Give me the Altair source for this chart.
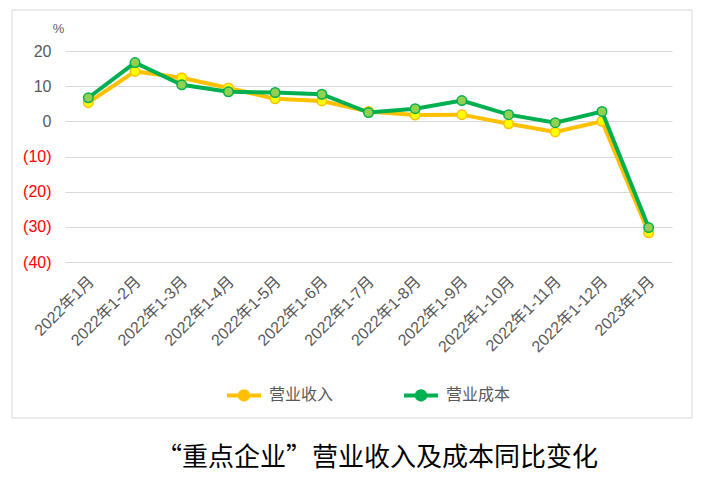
import altair as alt
import pandas as pd

periods = ["2022年1月", "2022年1-2月", "2022年1-3月", "2022年1-4月", "2022年1-5月",
           "2022年1-6月", "2022年1-7月", "2022年1-8月", "2022年1-9月", "2022年1-10月",
           "2022年1-11月", "2022年1-12月", "2023年1月"]
revenue = [5.3, 14.2, 12.4, 9.5, 6.4, 5.8, 2.8, 1.8, 1.9, -0.7, -3.0, 0.0, -31.7]
cost = [6.7, 16.7, 10.4, 8.4, 8.2, 7.7, 2.5, 3.6, 5.9, 1.9, -0.4, 2.8, -30.2]
series_names = ["营业收入", "营业成本"]
line_colors = ["#FFC000", "#00B050"]
dot_fill = ["#FFFF00", "#92D050"]
title_text = "“重点企业”营业收入及成本同比变化"

rows = []
for name, vals in zip(series_names, [revenue, cost]):
    for p, v in zip(periods, vals):
        rows.append({"period": p, "series": name, "value": v})
df = pd.DataFrame(rows)

FONT = "Liberation Sans, Noto Sans CJK SC"
GRAY = "#595959"

x_enc = alt.X("period:N", sort=periods, scale=alt.Scale(paddingInner=0, paddingOuter=0),
              axis=alt.Axis(title=None, labelAngle=-45, labelFontSize=16, labelColor=GRAY,
                            labelFont=FONT, ticks=False, domain=False, labelPadding=11,
                            labelOffset=-3, grid=False))
y_enc = alt.Y("value:Q", scale=alt.Scale(domain=[-40, 20], nice=False),
              axis=alt.Axis(values=[20, 10, 0, -10, -20, -30, -40],
                            labelExpr="datum.value < 0 ? '(' + abs(datum.value) + ')' : datum.value",
                            labelColor={"condition": {"test": "datum.value < 0", "value": "#FF0000"},
                                        "value": GRAY},
                            labelFontSize=16, labelFont=FONT, labelPadding=14,
                            ticks=False, domain=False, gridColor="#D9D9D9", gridWidth=1,
                            title="%", titleAngle=0, titleX=-7, titleY=-16, titleFontSize=13,
                            titleFontWeight="normal", titleColor=GRAY, titleFont=FONT,
                            titleAlign="center"))

base = alt.Chart(df)

frame = alt.Chart(pd.DataFrame({"a": [0]})).mark_rect(
    fill=None, stroke="#D9D9D9", strokeWidth=1
).encode(x=alt.value(-53), x2=alt.value(627), y=alt.value(-41), y2=alt.value(367))

legend_path = ("M-1,0 L1,0 M0.25,0 A0.25,0.25 0 1,1 -0.25,0 A0.25,0.25 0 1,1 0.25,0 Z")

layers = [frame]
for i, name in enumerate(series_names):
    sub = base.transform_filter(alt.datum.series == name)
    line = sub.mark_line(strokeWidth=4).encode(
        x=x_enc, y=y_enc,
        color=alt.Color("series:N", sort=series_names,
                        scale=alt.Scale(domain=series_names, range=line_colors),
                        legend=alt.Legend(title=None, orient="none", legendX=160, legendY=325,
                                          direction="horizontal", symbolType=legend_path,
                                          symbolSize=1156, symbolStrokeWidth=4,
                                          labelFontSize=16, labelColor=GRAY, labelFont=FONT,
                                          labelOffset=6, columnPadding=62))
    )
    pts = sub.mark_point(filled=True, size=90, fill=dot_fill[i], stroke=line_colors[i],
                         strokeWidth=1.5, opacity=1).encode(x=x_enc, y=y_enc)
    layers += [line, pts]

title = alt.Chart(pd.DataFrame({"t": [title_text]})).mark_text(
    fontSize=26, font="Noto Sans CJK SC", color="#000000", align="center", baseline="middle"
).encode(text="t:N", x=alt.value(312), y=alt.value(407))
layers.append(title)

chart = alt.layer(*layers).properties(
    width=607, height=211,
    autosize=alt.AutoSizeParams(type="none"),
    padding={"left": 57, "top": 43, "right": 26, "bottom": 215},
).configure_view(stroke=None)

chart.save("out.html", embed_options={"renderer": "svg", "actions": False})
